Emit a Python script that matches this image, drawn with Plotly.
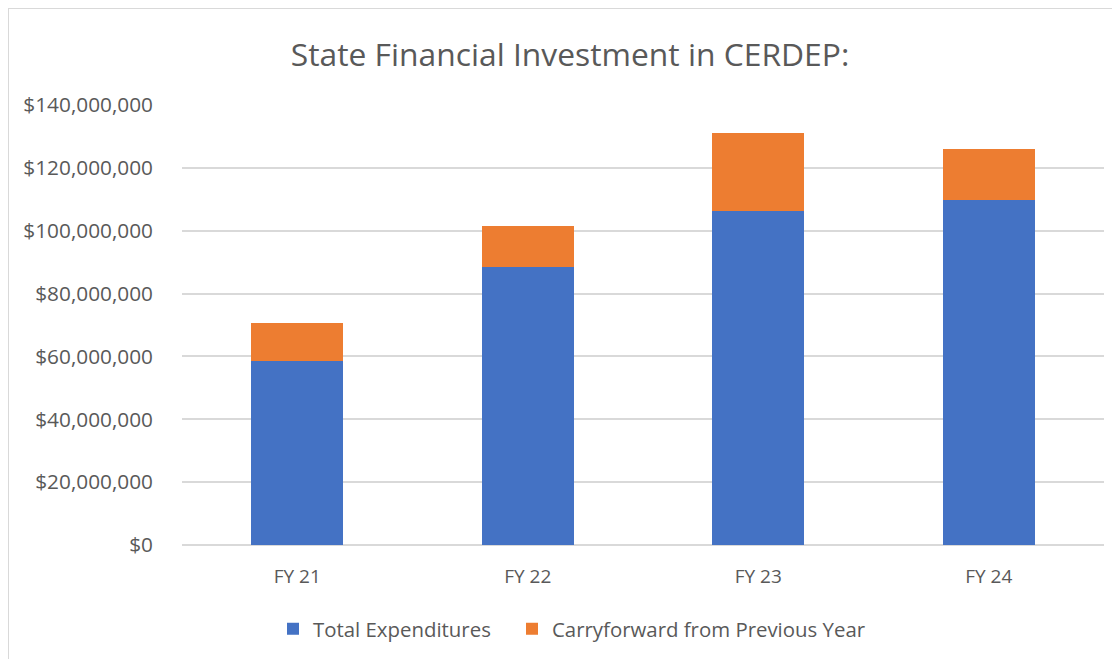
import plotly.graph_objects as go

categories = ["FY 21", "FY 22", "FY 23", "FY 24"]
total_expenditures = [58.4e6, 88.3e6, 106.3e6, 109.9e6]
carryforward = [12.2e6, 13.2e6, 24.8e6, 16.2e6]
tick_values = [0, 20e6, 40e6, 60e6, 80e6, 100e6, 120e6, 140e6]
tick_labels = ["$0", "$20,000,000", "$40,000,000", "$60,000,000", "$80,000,000",
               "$100,000,000", "$120,000,000", "$140,000,000"]

FONT = "'Open Sans', Lato, sans-serif"
TXT = "#595959"

fig = go.Figure()
fig.add_trace(go.Bar(x=categories, y=total_expenditures, name="Total Expenditures",
                     marker=dict(color="#4472C4", line=dict(width=0)), legend="legend"))
fig.add_trace(go.Bar(x=categories, y=carryforward, name="Carryforward from Previous Year",
                     marker=dict(color="#ED7D31", line=dict(width=0)), legend="legend2"))

# page body has an 8px margin; figure occupies window x 8..1120, y 8..659
OFF = 8
W, H = 1120 - OFF, 659 - OFF
L, R, T, B = 182 - OFF, 16, 105 - OFF, 114
pw, ph = W - L - R, H - T - B

def px_x(p):
    return (p - OFF - L) / pw

def px_y(p):
    return (H - B - (p - OFF)) / ph

legend_common = dict(orientation="h", xanchor="left", y=px_y(629), yanchor="middle",
                     font=dict(size=20.4, color=TXT, family=FONT), itemwidth=30,
                     bgcolor="rgba(0,0,0,0)")

fig.update_layout(
    barmode="stack",
    bargap=0.6,
    width=W, height=H,
    margin=dict(l=L, r=R, t=T, b=B, pad=0, autoexpand=False),
    paper_bgcolor="white", plot_bgcolor="white",
    font=dict(family=FONT, color=TXT, size=19),
    title=dict(text="State Financial Investment in CERDEP:", x=px_x(570), xanchor="center",
               xref="paper",
               y=1 - (55 - OFF) / H, yanchor="middle",
               font=dict(family=FONT, size=31.8, color=TXT)),
    xaxis=dict(showgrid=False, showline=False, ticks="", tickfont=dict(size=19, color=TXT),
               ticklabelstandoff=18),
    yaxis=dict(range=[0, 140e6], tickvals=tick_values, ticktext=tick_labels,
               showgrid=True, gridcolor="#D9D9D9", gridwidth=1.5, zeroline=True,
               zerolinecolor="#D9D9D9", zerolinewidth=1.5, showline=False, ticks="",
               tickfont=dict(size=20.8, color=TXT), ticklabelstandoff=28),
    legend=dict(x=px_x(273), **legend_common),
    legend2=dict(x=px_x(512), **legend_common),
    showlegend=True,
    shapes=[
        dict(type="line", xref="paper", yref="paper", x0=px_x(8), x1=px_x(1120),
             y0=px_y(8), y1=px_y(8), line=dict(color="#D9D9D9", width=2)),
        dict(type="line", xref="paper", yref="paper", x0=px_x(8), x1=px_x(8),
             y0=px_y(8), y1=px_y(659), line=dict(color="#D9D9D9", width=2)),
    ],
)

fig.write_html("out.html")
